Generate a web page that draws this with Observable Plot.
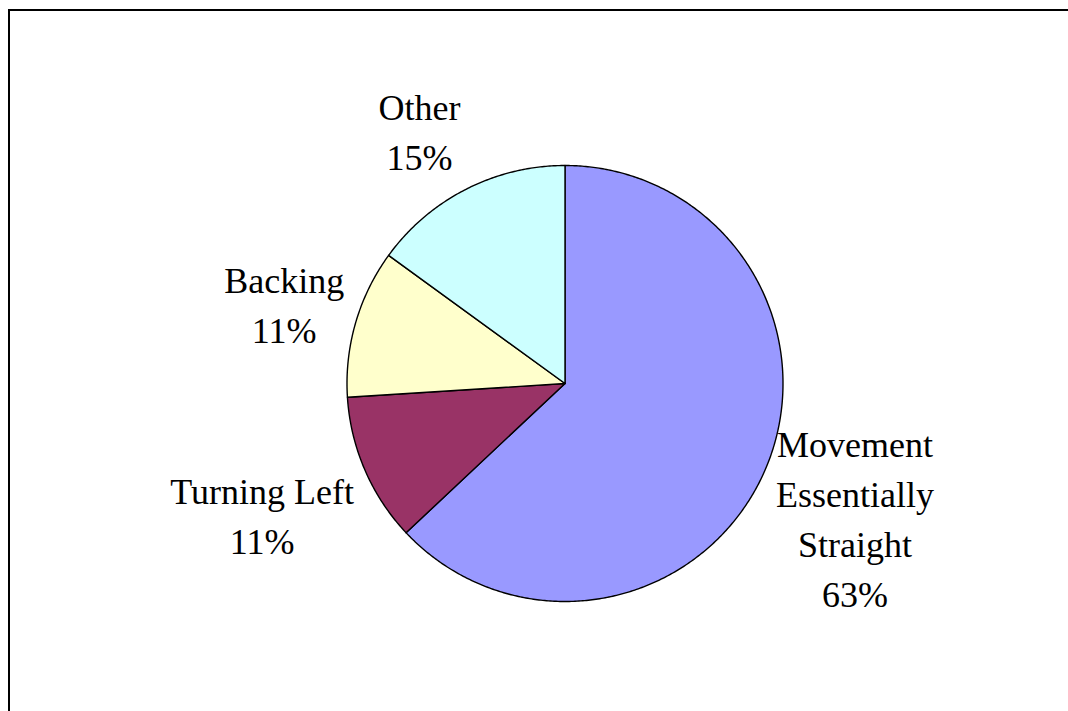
<!DOCTYPE html>
<html>
<head>
<meta charset="utf-8">
<script src="https://cdn.jsdelivr.net/npm/d3@7"></script>
<script src="https://cdn.jsdelivr.net/npm/@observablehq/plot@0.6"></script>
<style>
  html, body { margin: 0; padding: 0; background: #fff; overflow: hidden; }
  #frame {
    position: absolute; left: 8px; top: 9px; width: 1100px; height: 760px;
    border-left: 2px solid #000; border-top: 2px solid #000; box-sizing: border-box;
  }
  #chart { position: absolute; left: 0; top: 0; }
</style>
</head>
<body>
<div id="frame"></div>
<div id="chart"></div>
<script>
const categories = ["Movement Essentially Straight", "Turning Left", "Backing", "Other"];
const labelLines = [["Movement", "Essentially", "Straight"], ["Turning Left"], ["Backing"], ["Other"]];
const values = [63, 11, 11, 15];
const percentLabels = ["63%", "11%", "11%", "15%"];
const colors = ["#9999FF", "#993366", "#FFFFCC", "#CCFFFF"];

const W = 1068, H = 711;
const cx = 564.5, cy = 383, R = 218;   // layout of the pie in pixels
const fontSize = 36, lineH = 50;

const pie = d3.pie().sort(null).value(d => d.value)
  .startAngle(0).endAngle(2 * Math.PI);
const rows = categories.map((c, i) => ({name: c, value: values[i], lines: labelLines[i], pct: percentLabels[i]}));
const arcs = pie(rows);

// wedge polygons in unit-radius coordinates (y up), angle clockwise from 12 o'clock
const wedgePts = [];
for (const a of arcs) {
  wedgePts.push({name: a.data.name, x: 0, y: 0});
  const n = Math.max(2, Math.ceil((a.endAngle - a.startAngle) / (Math.PI / 360)));
  for (let k = 0; k <= n; k++) {
    const t = a.startAngle + (a.endAngle - a.startAngle) * k / n;
    wedgePts.push({name: a.data.name, x: Math.sin(t), y: Math.cos(t)});
  }
  wedgePts.push({name: a.data.name, x: 0, y: 0});
}

// label placement: text box just outside the rim along the mid-angle
const ctx = document.createElement("canvas").getContext("2d");
ctx.font = `${fontSize}px "Liberation Serif"`;
const labels = arcs.map(a => {
  const lines = [...a.data.lines, a.data.pct];
  const w = d3.max(lines, s => ctx.measureText(s).width);
  const h = lines.length * lineH;
  const m = (a.startAngle + a.endAngle) / 2;
  const dx = Math.sin(m), dy = Math.cos(m);
  const support = Math.abs(dx) * w / 2 + Math.abs(dy) * h / 2;
  const rr = 1 + (4 + support) / R;
  const xpx = dx * (R + 12) + Math.sign(dx) * w / 2;  // near edge of box just beyond rim
  return {text: lines.join("\n"), x: xpx / R, y: dy * rr};
});

const chart = Plot.plot({
  width: W, height: H,
  margin: 0,
  x: {domain: [-cx / R, (W - cx) / R], range: [0, W], axis: null},
  y: {domain: [-(H - cy) / R, cy / R], range: [H, 0], axis: null},
  color: {domain: categories, range: colors},
  style: {background: "transparent", overflow: "visible"},
  marks: [
    Plot.line(wedgePts, {x: "x", y: "y", z: "name", fill: "name", stroke: "#000", strokeWidth: 1.4, strokeLinejoin: "round", curve: "linear"}),
    Plot.text(labels, {x: "x", y: "y", text: "text", fontSize: fontSize, fontFamily: "Liberation Serif, 'Times New Roman', serif", fill: "#000", lineHeight: lineH / fontSize, textAnchor: "middle", lineAnchor: "middle"})
  ]
});
document.getElementById("chart").appendChild(chart);
</script>
</body>
</html>
